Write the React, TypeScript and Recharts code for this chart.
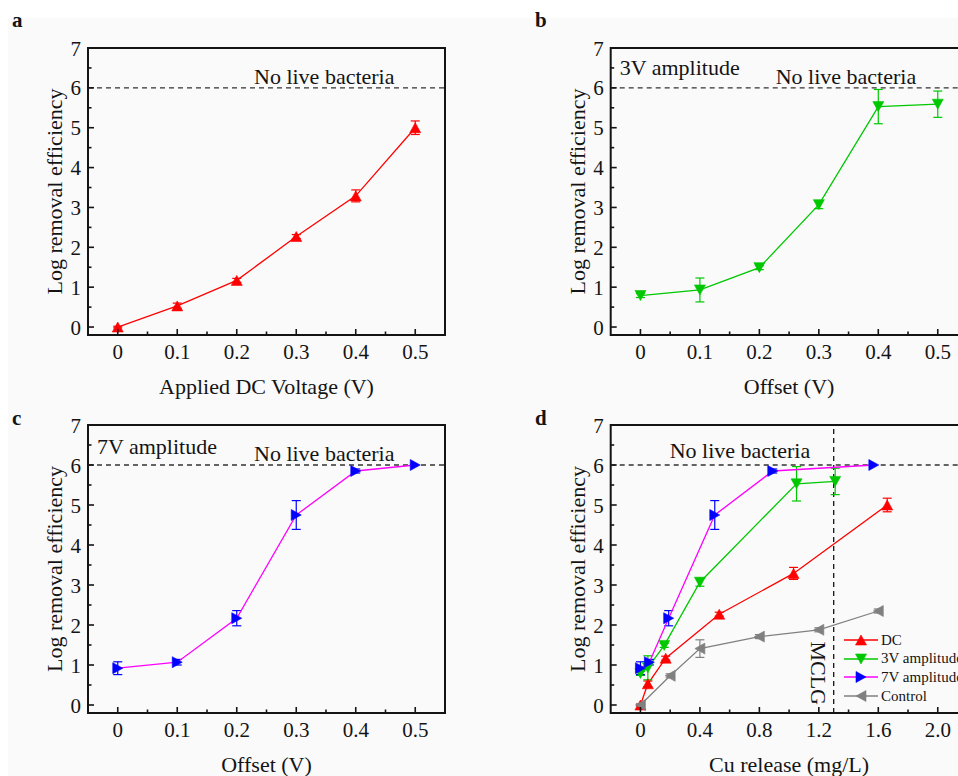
import React from 'react';
import { LineChart, Line, XAxis, YAxis, ReferenceLine, ReferenceArea, ErrorBar, Legend } from 'recharts';

const FONT = "'Liberation Serif', 'Times New Roman', Times, serif";
const INK = '#141414';

// ---------- data ----------
const offsetV = [0, 0.1, 0.2, 0.3, 0.4, 0.5];

const dcLog = [0, 0.53, 1.17, 2.27, 3.29, 5.0];
const dcErr = [0.02, 0.07, 0.05, 0.05, 0.15, 0.17];

const amp3Log = [0.79, 0.93, 1.49, 3.07, 5.53, 5.59];
const amp3Err = [0.05, 0.3, 0.05, 0.1, 0.43, 0.33];

const amp7Log = [0.92, 1.07, 2.17, 4.75, 5.85, 6.0];
const amp7Err = [0.16, 0.07, 0.19, 0.36, 0.05, 0];

const dcCu = [0, 0.05, 0.17, 0.53, 1.03, 1.66];
const amp3Cu = [0, 0.05, 0.16, 0.4, 1.05, 1.31];
const amp7Cu = [0, 0.06, 0.19, 0.5, 0.89, 1.57];
const controlCu = [0, 0.2, 0.4, 0.8, 1.2, 1.6];
const controlLog = [0, 0.73, 1.41, 1.71, 1.88, 2.35];
const controlErr = [0.03, 0.05, 0.22, 0.05, 0.05, 0.05];

const seriesNames = ['DC', '3V amplitude', '7V amplitude', 'Control'];
const lineColors = ['#ff0000', '#00c800', '#ff00ff', '#808080'];
const markColors = ['#ff0000', '#00c800', '#0000ff', '#808080'];
const markShapes = ['up', 'down', 'right', 'left'];

const MCLG_CU = 1.3;
const NO_LIVE = 6;

const yDomain: [number, number] = [-0.2, 7];
const yTicks = [0, 0.5, 1, 1.5, 2, 2.5, 3, 3.5, 4, 4.5, 5, 5.5, 6, 6.5, 7];
const yMajors = [0, 1, 2, 3, 4, 5, 6, 7];
const yLabels = ['0', '1', '2', '3', '4', '5', '6', '7'];

const offDomain: [number, number] = [-0.05, 0.55];
const offTicks = [0, 0.05, 0.1, 0.15, 0.2, 0.25, 0.3, 0.35, 0.4, 0.45, 0.5];
const offMajors = [0, 0.1, 0.2, 0.3, 0.4, 0.5];
const offLabels = ['0', '0.1', '0.2', '0.3', '0.4', '0.5'];

const cuDomain: [number, number] = [-0.2, 2.2];
const cuTicks = [0, 0.2, 0.4, 0.6, 0.8, 1.0, 1.2, 1.4, 1.6, 1.8, 2.0];
const cuMajors = [0, 0.4, 0.8, 1.2, 1.6, 2.0];
const cuLabels = ['0', '0.4', '0.8', '1.2', '1.6', '2.0'];

// ---------- helpers ----------
type Pt = { x: number; y: number; err: number };
const build = (xs: number[], ys: number[], es: number[]): Pt[] =>
  xs.map((x, i) => ({ x, y: ys[i], err: es[i] }));

type Series = { name: string; data: Pt[]; line: string; mark: string; shape: string };

const marker = (shape: string, cx: number, cy: number, color: string, key: string) => {
  if (cx == null || cy == null || isNaN(cx) || isNaN(cy)) return <g key={key} />;
  const w = 11;
  const h = 10;
  let d = '';
  if (shape === 'up') d = `M${cx - w / 2},${cy + h / 2}L${cx + w / 2},${cy + h / 2}L${cx},${cy - h / 2}Z`;
  else if (shape === 'down') d = `M${cx - w / 2},${cy - h / 2}L${cx + w / 2},${cy - h / 2}L${cx},${cy + h / 2}Z`;
  else if (shape === 'right') d = `M${cx - h / 2},${cy - w / 2}L${cx + h / 2},${cy}L${cx - h / 2},${cy + w / 2}Z`;
  else d = `M${cx + h / 2},${cy - w / 2}L${cx - h / 2},${cy}L${cx + h / 2},${cy + w / 2}Z`;
  return <path key={key} d={d} fill={color} stroke={color} strokeWidth={0.6} strokeLinejoin="round" />;
};

const findIdx = (arr: number[], v: number) => arr.findIndex((m) => Math.abs(m - v) < 1e-9);

const makeXTick = (majors: number[], labels: string[]) => (props: any) => {
  const { x, y, payload } = props;
  const idx = findIdx(majors, payload.value);
  const major = idx >= 0;
  return (
    <g>
      <line x1={x} x2={x} y1={y} y2={y - (major ? 6 : 3.5)} stroke={INK} strokeWidth={1.6} />
      {major && (
        <text x={x} y={y + 23.5} textAnchor="middle" fontSize={21} fontFamily={FONT} fill={INK}>
          {labels[idx]}
        </text>
      )}
    </g>
  );
};

const makeYTick = (majors: number[], labels: string[]) => (props: any) => {
  const { x, y, payload } = props;
  const idx = findIdx(majors, payload.value);
  const major = idx >= 0;
  return (
    <g>
      <line x1={x} x2={x + (major ? 6 : 3.5)} y1={y} y2={y} stroke={INK} strokeWidth={1.6} />
      {major && (
        <text x={x - 7} y={y + 7.5} textAnchor="end" fontSize={21} fontFamily={FONT} fill={INK}>
          {labels[idx]}
        </text>
      )}
    </g>
  );
};

const dcSeries: Series[] = [
  { name: seriesNames[0], data: build(offsetV, dcLog, dcErr), line: lineColors[0], mark: markColors[0], shape: markShapes[0] },
];
const amp3Series: Series[] = [
  { name: seriesNames[1], data: build(offsetV, amp3Log, amp3Err), line: lineColors[1], mark: markColors[1], shape: markShapes[1] },
];
const amp7Series: Series[] = [
  { name: seriesNames[2], data: build(offsetV, amp7Log, amp7Err), line: lineColors[2], mark: markColors[2], shape: markShapes[2] },
];
const cuSeries: Series[] = [
  { name: seriesNames[0], data: build(dcCu, dcLog, dcErr), line: lineColors[0], mark: markColors[0], shape: markShapes[0] },
  { name: seriesNames[1], data: build(amp3Cu, amp3Log, amp3Err), line: lineColors[1], mark: markColors[1], shape: markShapes[1] },
  { name: seriesNames[2], data: build(amp7Cu, amp7Log, amp7Err), line: lineColors[2], mark: markColors[2], shape: markShapes[2] },
  { name: seriesNames[3], data: build(controlCu, controlLog, controlErr), line: lineColors[3], mark: markColors[3], shape: markShapes[3] },
];

const textStyle = { fontSize: 22, fontFamily: FONT, fill: INK } as const;

const Y_AXIS_W = 40;
const X_AXIS_H = 30;

type PanelProps = {
  left: number;
  top: number;
  width: number;
  height: number;
  plot: { top: number; right: number; bottom: number; left: number };
  xDomain: [number, number];
  xTicks: number[];
  xMajors: number[];
  xLabels: string[];
  xTitle: string;
  series: Series[];
  noLive: [number, number];
  amp?: { text: string; dx: number; dy: number };
  mclg?: boolean;
  legend?: boolean;
};

const renderLegend = () => (
  <div style={{ fontFamily: FONT, fontSize: 15, color: INK }}>
    {seriesNames.map((n, i) => (
      <div key={n} style={{ display: 'flex', alignItems: 'center', height: 18.7, whiteSpace: 'nowrap' }}>
        <svg width={34} height={14} style={{ display: 'block' }}>
          <line x1={0} x2={34} y1={7} y2={7} stroke={lineColors[i]} strokeWidth={1.3} />
          {marker(markShapes[i], 17, 7, markColors[i], 'lm' + i)}
        </svg>
        <span style={{ marginLeft: 3 }}>{n}</span>
      </div>
    ))}
  </div>
);

function Panel(p: PanelProps) {
  const margin = {
    top: p.plot.top,
    right: p.plot.right,
    bottom: p.plot.bottom - X_AXIS_H,
    left: p.plot.left - Y_AXIS_W,
  };
  return (
    <div style={{ position: 'absolute', left: p.left, top: p.top, width: p.width, height: p.height }}>
      <LineChart width={p.width} height={p.height} margin={margin}>
        <XAxis
          type="number"
          dataKey="x"
          domain={p.xDomain}
          ticks={p.xTicks}
          interval={0}
          height={X_AXIS_H}
          tickSize={0}
          tickMargin={0}
          axisLine={false}
          tickLine={false}
          allowDataOverflow
          tick={makeXTick(p.xMajors, p.xLabels)}
          label={(lp: any) => {
            const vb = lp.viewBox || {};
            return (
              <text x={vb.x + vb.width / 2} y={vb.y + 59} textAnchor="middle" {...textStyle}>
                {p.xTitle}
              </text>
            );
          }}
        />
        <YAxis
          type="number"
          domain={yDomain}
          ticks={yTicks}
          interval={0}
          width={Y_AXIS_W}
          tickSize={0}
          tickMargin={0}
          axisLine={false}
          tickLine={false}
          allowDataOverflow
          tick={makeYTick(yMajors, yLabels)}
          label={(lp: any) => {
            const vb = lp.viewBox || {};
            const cx = vb.x + vb.width - 26;
            const cy = vb.y + vb.height / 2;
            return (
              <text x={cx} y={cy} transform={`rotate(-90 ${cx} ${cy})`} textAnchor="middle" {...textStyle}>
                Log removal efficiency
              </text>
            );
          }}
        />
        <ReferenceArea
          x1={p.xDomain[0]}
          x2={p.xDomain[1]}
          y1={yDomain[0]}
          y2={yDomain[1]}
          fill="none"
          fillOpacity={0}
          stroke={INK}
          strokeWidth={2}
          ifOverflow="visible"
        />
        <ReferenceLine
          y={NO_LIVE}
          stroke="#333"
          strokeWidth={1.3}
          strokeDasharray="5 4"
          label={(lp: any) => {
            const vb = lp.viewBox || {};
            return (
              <g>
                <text x={vb.x + p.noLive[0]} y={vb.y + p.noLive[1]} {...textStyle}>
                  No live bacteria
                </text>
                {p.amp && (
                  <text x={vb.x + p.amp.dx} y={vb.y + p.amp.dy} {...textStyle}>
                    {p.amp.text}
                  </text>
                )}
              </g>
            );
          }}
        />
        {p.mclg && (
          <ReferenceLine
            x={MCLG_CU}
            stroke={INK}
            strokeWidth={1.3}
            strokeDasharray="5 4"
            label={(lp: any) => {
              const vb = lp.viewBox || {};
              const tx = vb.x - 23;
              const ty = vb.y + vb.height - 8;
              return (
                <text x={tx} y={ty} transform={`rotate(90 ${tx} ${ty})`} textAnchor="end" {...textStyle}>
                  MCLG
                </text>
              );
            }}
          />
        )}
        {p.series.map((s) => (
          <Line
            key={s.name}
            data={s.data}
            dataKey="y"
            name={s.name}
            type="linear"
            stroke={s.line}
            strokeWidth={1.3}
            isAnimationActive={false}
            activeDot={false}
            dot={(dp: any) => marker(s.shape, dp.cx, dp.cy, s.mark, `${s.name}-${dp.index}`)}
          >
            <ErrorBar dataKey="err" direction="y" width={4.5} stroke={s.mark} strokeWidth={1.2} />
          </Line>
        ))}
        {p.legend && (
          <Legend
            layout="vertical"
            align="center"
            verticalAlign="middle"
            wrapperStyle={{ position: 'absolute', left: 365, top: 240.7, width: 'auto', height: 'auto' }}
            content={renderLegend}
          />
        )}
      </LineChart>
    </div>
  );
}

const letterStyle: React.CSSProperties = {
  position: 'absolute',
  fontFamily: FONT,
  fontWeight: 'bold',
  fontSize: 21,
  lineHeight: '21px',
  color: INK,
};

export default function App() {
  return (
    <div
      style={{
        position: 'absolute',
        left: 0,
        top: 0,
        width: 958,
        height: 776,
        overflow: 'hidden',
        background: '#ffffff',
      }}
    >
      <div style={{ position: 'absolute', left: 8, top: 18, right: 0, bottom: 0, background: '#fafafa' }} />
      <Panel
        left={0}
        top={0}
        width={479}
        height={402}
        plot={{ top: 48, right: 34, bottom: 67, left: 88 }}
        xDomain={offDomain}
        xTicks={offTicks}
        xMajors={offMajors}
        xLabels={offLabels}
        xTitle="Applied DC Voltage (V)"
        series={dcSeries}
        noLive={[166, -4]}
      />
      <Panel
        left={479}
        top={0}
        width={520}
        height={402}
        plot={{ top: 48, right: 31.5, bottom: 67, left: 131.7 }}
        xDomain={offDomain}
        xTicks={offTicks}
        xMajors={offMajors}
        xLabels={offLabels}
        xTitle="Offset (V)"
        series={amp3Series}
        noLive={[165, -4]}
        amp={{ text: '3V amplitude', dx: 9, dy: -12.5 }}
      />
      <Panel
        left={0}
        top={390}
        width={479}
        height={386}
        plot={{ top: 35, right: 34, bottom: 63, left: 88 }}
        xDomain={offDomain}
        xTicks={offTicks}
        xMajors={offMajors}
        xLabels={offLabels}
        xTitle="Offset (V)"
        series={amp7Series}
        noLive={[166, -4]}
        amp={{ text: '7V amplitude', dx: 9, dy: -11.5 }}
      />
      <Panel
        left={479}
        top={390}
        width={520}
        height={386}
        plot={{ top: 35, right: 31.5, bottom: 63, left: 131.7 }}
        xDomain={cuDomain}
        xTicks={cuTicks}
        xMajors={cuMajors}
        xLabels={cuLabels}
        xTitle="Cu release (mg/L)"
        series={cuSeries}
        noLive={[59, -7]}
        mclg
        legend
      />
      <div style={{ ...letterStyle, left: 12, top: 10 }}>a</div>
      <div style={{ ...letterStyle, left: 535, top: 10 }}>b</div>
      <div style={{ ...letterStyle, left: 12, top: 408 }}>c</div>
      <div style={{ ...letterStyle, left: 535, top: 408 }}>d</div>
    </div>
  );
}
